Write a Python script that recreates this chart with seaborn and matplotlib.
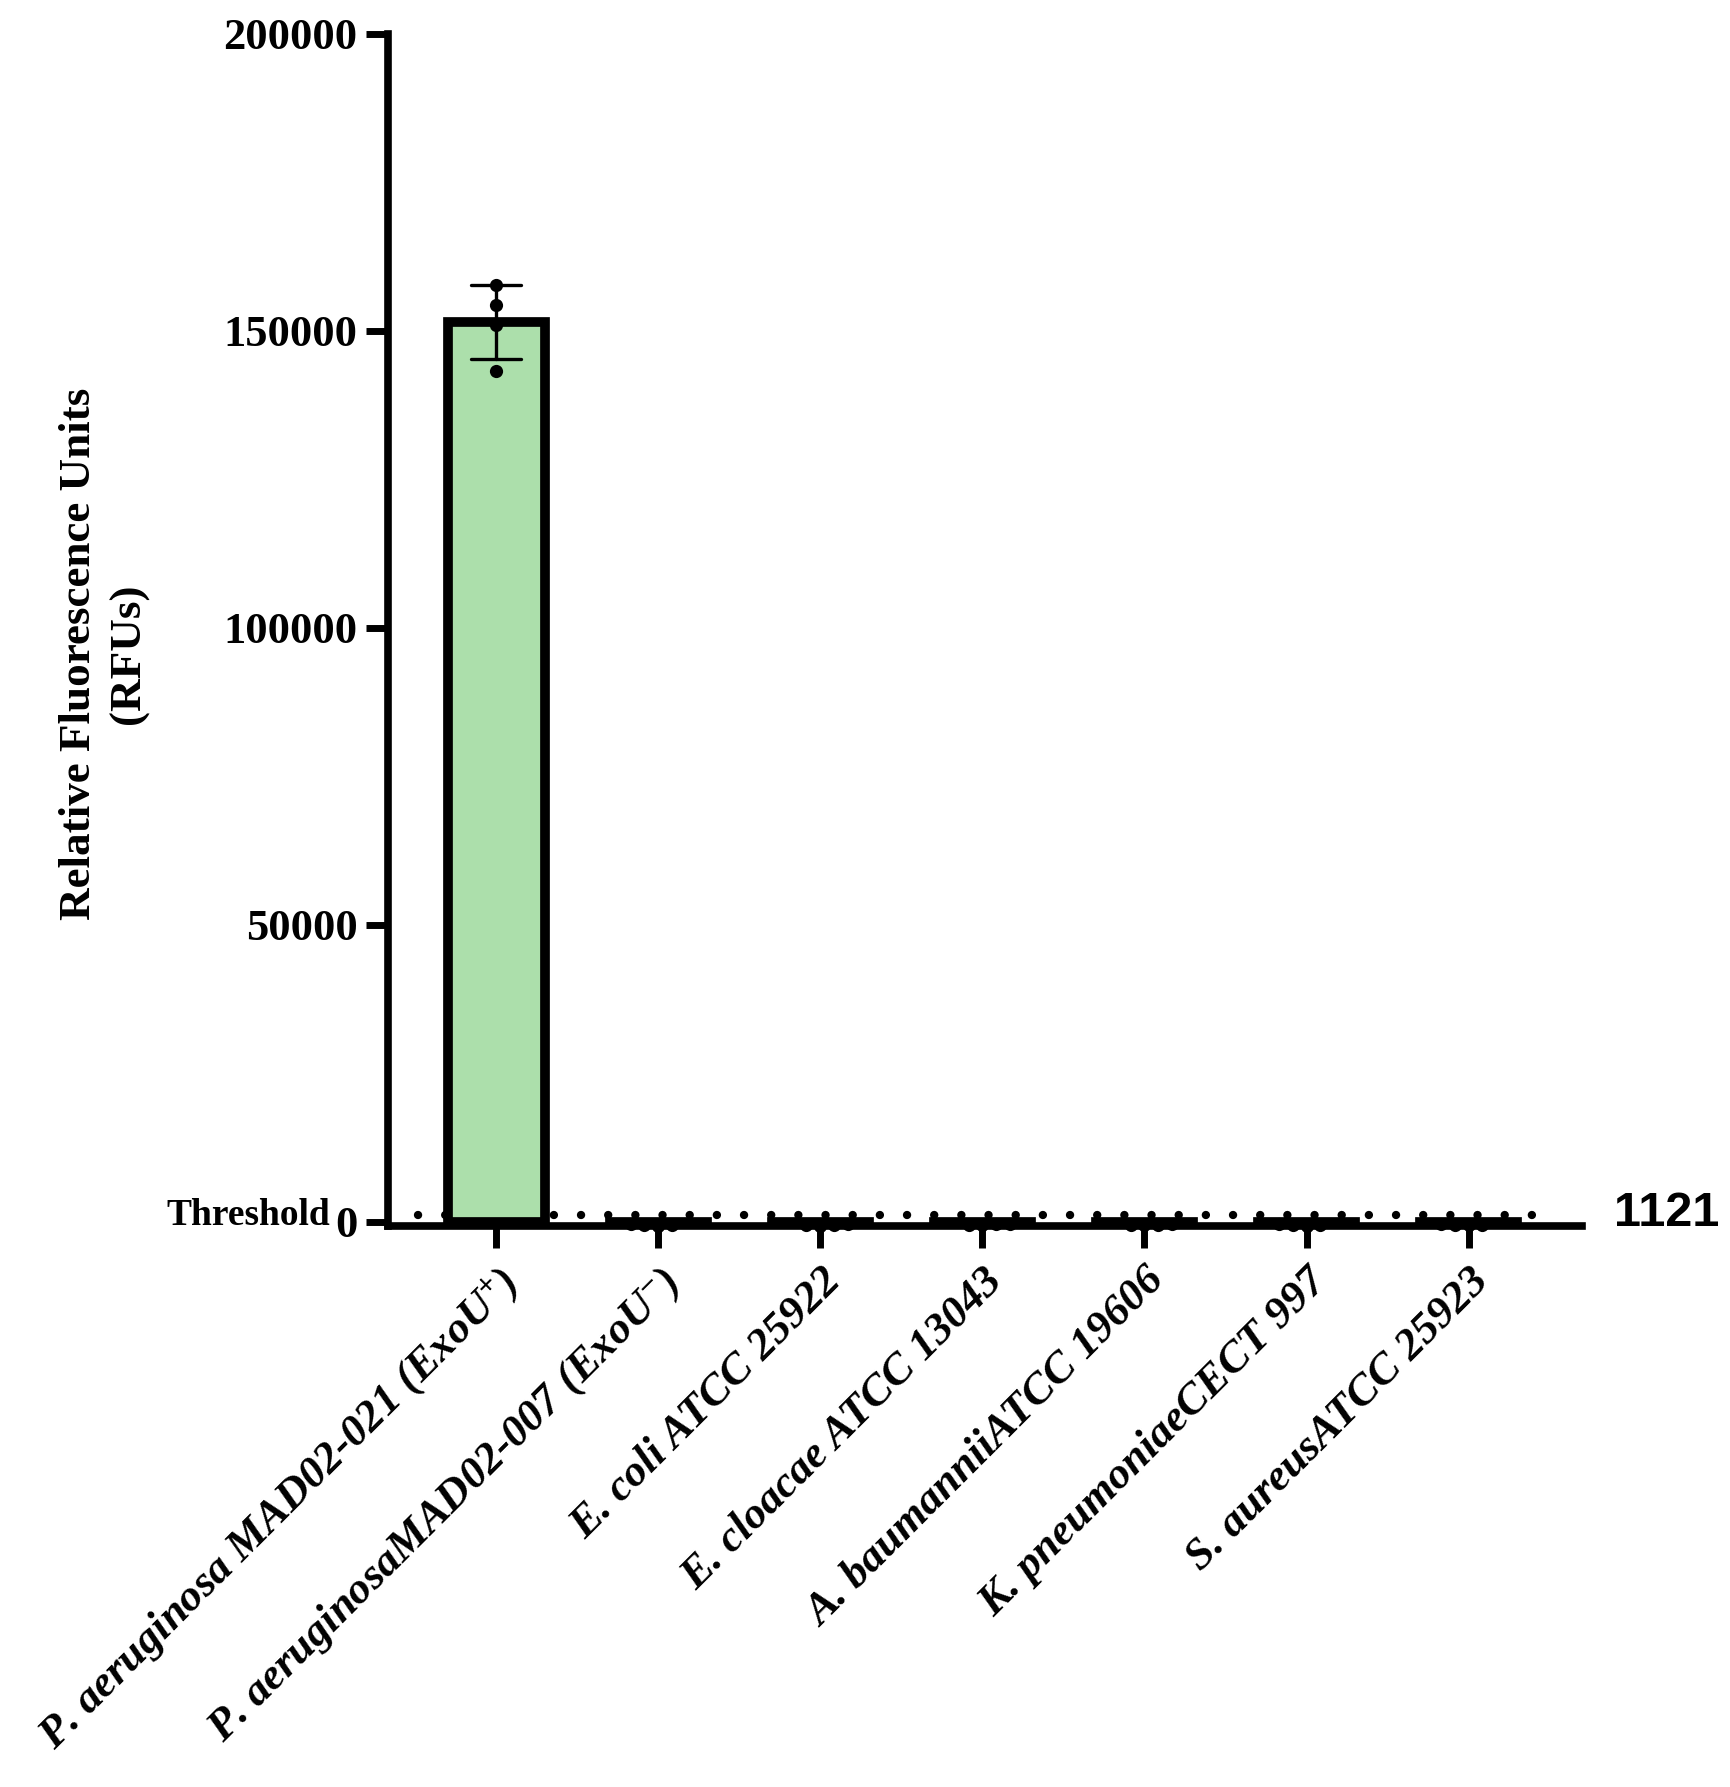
import matplotlib
matplotlib.use("Agg")
import pandas as pd
import matplotlib.pyplot as plt
import seaborn as sns

# strain labels (x axis)
strains = [
    "P. aeruginosa MAD02-021 (ExoU$^{+}$)",
    "P. aeruginosaMAD02-007 (ExoU$^{-}$)",
    "E. coli ATCC 25922",
    "E. cloacae ATCC 13043",
    "A. baumanniiATCC 19606",
    "K. pneumoniaeCECT 997",
    "S. aureusATCC 25923",
]

# replicate RFU readings per strain
pa_021 = [157800, 154300, 151000, 143200]
pa_007 = [-450, -620, -380, -560]
e_coli = [-520, -400, -610, -470]
e_cloacae = [-430, -580, -500, -390]
a_baumannii = [-600, -450, -520, -380]
k_pneumoniae = [-480, -560, -400, -620]
s_aureus = [-410, -590, -470, -530]

threshold = 1121
y_ticks = [0, 50000, 100000, 150000, 200000]

bar_color = "#acdfab"

sns.set_style("ticks")
plt.rcParams["font.family"] = ["Liberation Serif", "DejaVu Serif"]
plt.rcParams["mathtext.fontset"] = "custom"
plt.rcParams["mathtext.rm"] = "Liberation Serif:bold:italic"
plt.rcParams["mathtext.it"] = "Liberation Serif:bold:italic"
plt.rcParams["mathtext.bf"] = "Liberation Serif:bold:italic"
for key in ["axes.edgecolor", "xtick.color", "ytick.color", "text.color", "axes.labelcolor"]:
    plt.rcParams[key] = "black"

replicates = [pa_021, pa_007, e_coli, e_cloacae, a_baumannii, k_pneumoniae, s_aureus]
rows = []
for name, vals in zip(strains, replicates):
    for v in vals:
        rows.append({"strain": name, "rfu": v})
df = pd.DataFrame(rows)

fig = plt.figure(figsize=(17.3, 17.87), dpi=100)
ax = fig.add_axes([0.2243, 0.3139, 0.6902, 0.6671])

# threshold line behind the bars
ax.axhline(threshold, xmin=0.025, xmax=0.98, color="black", lw=6,
           linestyle=(0, (0.01, 3.25)), dash_capstyle="round", zorder=1.5)

sns.barplot(data=df, x="strain", y="rfu", order=strains, errorbar="sd",
            capsize=0.31, color=bar_color, saturation=1, edgecolor="black",
            linewidth=7, width=0.6, zorder=2,
            err_kws={"color": "black", "linewidth": 2.4, "zorder": 3}, ax=ax)
n_before = len(ax.collections)
sns.swarmplot(data=df, x="strain", y="rfu", order=strains, color="black",
              size=9.5, zorder=4, ax=ax)
for coll in ax.collections[n_before:]:
    coll.set_clip_on(False)

ax.set_xlim(-0.667, 6.70)
ax.set_ylim(-700, 200000)
ax.set_yticks(y_ticks)
ax.set_yticklabels([str(v) for v in y_ticks], fontsize=32, fontweight="bold")
ax.set_xticks(range(len(strains)))
ax.set_xticklabels(strains, rotation=45, ha="right", rotation_mode="anchor",
                   fontsize=32, fontweight="bold", fontstyle="italic")

for side in ["top", "right"]:
    ax.spines[side].set_visible(False)
for side in ["left", "bottom"]:
    ax.spines[side].set_linewidth(5.5)
    ax.spines[side].set_capstyle("projecting")
ax.tick_params(length=16, width=5, pad=6, colors="black")
ax.tick_params(axis="x", pad=9)

ax.set_xlabel("")
ax.set_ylabel("Relative Fluorescence Units\n(RFUs)", fontsize=32.5,
              fontweight="bold", va="center", linespacing=1.3)
ax.yaxis.set_label_coords(-0.238, 0.48)

ax.annotate("Threshold", xy=(0, threshold), xycoords=("axes fraction", "data"),
            xytext=(-42, 0), textcoords="offset points", ha="right", va="center",
            fontsize=27, fontweight="bold")
ax.annotate(str(threshold), xy=(1, threshold), xycoords=("axes fraction", "data"),
            xytext=(23, 1), textcoords="offset points", ha="left", va="center",
            fontsize=35, fontweight="bold", family="Liberation Sans")

fig.savefig("out.png", dpi=100)
